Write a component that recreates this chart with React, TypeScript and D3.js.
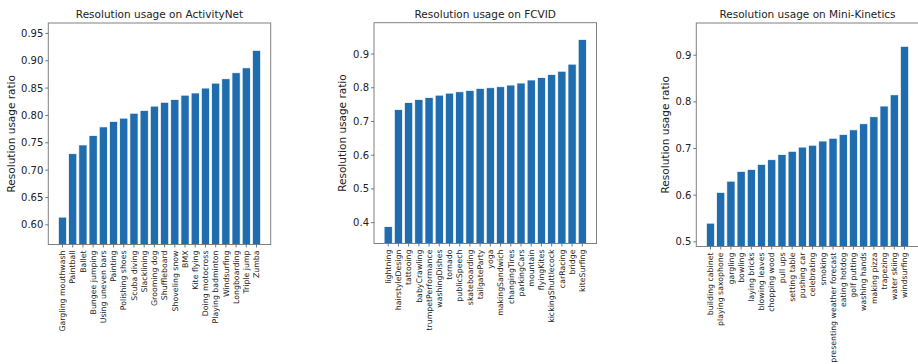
import React from "react";
import * as d3 from "d3";

const anetCategories = ["Gargling mouthwash","Paintball","Ballet","Bungee jumping","Using uneven bars","Painting","Polishing shoes","Scuba diving","Slacklining","Grooming dog","Shuffleboard","Shoveling snow","BMX","Kite flying","Doing motocross","Playing badminton","Windsurfing","Longboarding","Triple jump","Zumba"];
const anetValues = [0.614,0.730,0.746,0.763,0.779,0.789,0.795,0.804,0.809,0.817,0.824,0.829,0.837,0.841,0.850,0.859,0.867,0.878,0.887,0.919];
const anetTicks = [0.60,0.65,0.70,0.75,0.80,0.85,0.90,0.95];

const fcvidCategories = ["lightning","hairstyleDesign","tattooing","babyCrawling","trumpetPerformance","washingDishes","tornado","publicSpeech","skateboarding","tailgateParty","yoga","makingSandwich","changingTires","parkingCars","mountain","flyingKites","kickingShuttlecock","carRacing","bridge","kiteSurfing"];
const fcvidValues = [0.388,0.735,0.756,0.765,0.771,0.778,0.784,0.788,0.792,0.798,0.800,0.803,0.808,0.814,0.823,0.830,0.839,0.849,0.870,0.943];
const fcvidTicks = [0.4,0.5,0.6,0.7,0.8,0.9];

const mkCategories = ["building cabinet","playing saxophone","gargling","bowling","laying bricks","blowing leaves","chopping wood","pull ups","setting table","pushing car","celebrating","smoking","presenting weather forecast","eating hotdog","golf putting","washing hands","making pizza","trapezing","water skiing","windsurfing"];
const mkValues = [0.540,0.606,0.630,0.651,0.655,0.666,0.676,0.687,0.694,0.703,0.707,0.716,0.722,0.730,0.740,0.753,0.768,0.791,0.815,0.919];
const mkTicks = [0.5,0.6,0.7,0.8,0.9];

const FONT = "DejaVu Sans";
const BLUE = "#1f6dae";

type PanelProps = {
  title: string;
  categories: string[];
  values: number[];
  ticks: number[];
  fmt: string;
  left: number;
  right: number;
  top: number;
  bottom: number;
  ylabelX: number;
};

function Panel({ title, categories, values, ticks, fmt, left, right, top, bottom, ylabelX }: PanelProps) {
  const n = categories.length;
  const pad = 0.05 * (n - 1 + 0.8);
  const x = d3.scaleLinear().domain([-0.4 - pad, n - 1 + 0.4 + pad]).range([left, right]);
  const lo = (d3.min(values) as number) - 0.05;
  const hi = (d3.max(values) as number) + 0.05;
  const y = d3.scaleLinear().domain([lo, hi]).range([bottom, top]);
  const f = d3.format(fmt);
  const cx = (left + right) / 2;
  const cy = (top + bottom) / 2;
  return (
    <g fontFamily={FONT}>
      <text x={cx} y={17.5} textAnchor="middle" fontSize={10.5} fill="#222">{title}</text>
      {values.map((v, i) => (
        <rect key={i} x={x(i - 0.4)} y={y(v)} width={x(i + 0.4) - x(i - 0.4)} height={bottom - y(v)}
          fill={BLUE} stroke="#ffffff" strokeWidth={0.7} />
      ))}
      <rect x={left} y={top} width={right - left} height={bottom - top} fill="none" stroke="#808080" strokeWidth={1} />
      {ticks.map((t, i) => (
        <g key={i} transform={`translate(0,${y(t)})`}>
          <line x1={left - 3} x2={left} stroke="#555" strokeWidth={0.8} />
          <text x={left - 5} dy="0.35em" textAnchor="end" fontSize={10} fill="#222">{f(t)}</text>
        </g>
      ))}
      {categories.map((c, i) => (
        <g key={i}>
          <line x1={x(i)} x2={x(i)} y1={bottom} y2={bottom + 3} stroke="#555" strokeWidth={0.8} />
          <text transform={`translate(${x(i)},${bottom + 6}) rotate(-90)`} textAnchor="end" dy="0.35em" fontSize={7.8} fill="#222">{c}</text>
        </g>
      ))}
      <text transform={`translate(${ylabelX},${cy}) rotate(-90)`} textAnchor="middle" dy="0.35em" fontSize={10.5} fill="#222">Resolution usage ratio</text>
    </g>
  );
}

export default function App() {
  return (
    <svg width={918} height={364} style={{ position: "absolute", left: 0, top: 0, background: "#fff" }}>
      <Panel title="Resolution usage on ActivityNet" categories={anetCategories} values={anetValues} ticks={anetTicks}
        fmt=".2f" left={48.3} right={270.7} top={23} bottom={244.5} ylabelX={11} />
      <Panel title="Resolution usage on FCVID" categories={fcvidCategories} values={fcvidValues} ticks={fcvidTicks}
        fmt=".1f" left={374} right={596.5} top={22.7} bottom={243.5} ylabelX={342.5} />
      <Panel title="Resolution usage on Mini-Kinetics" categories={mkCategories} values={mkValues} ticks={mkTicks}
        fmt=".1f" left={696.3} right={918.7} top={23} bottom={246.5} ylabelX={665} />
    </svg>
  );
}
